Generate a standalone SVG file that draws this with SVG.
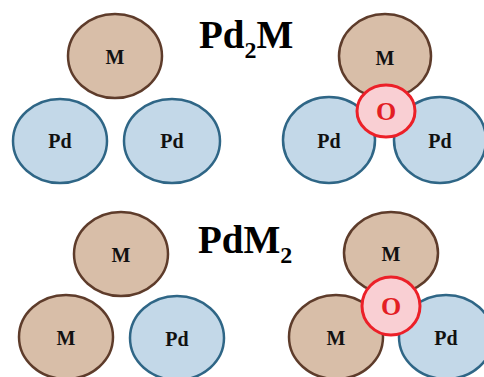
<svg xmlns="http://www.w3.org/2000/svg" width="484" height="377" viewBox="0 0 484 377">
<style>
.m{fill:#d8bea8;stroke:#5e3c2b;stroke-width:2.5}
.pd{fill:#c3d8e8;stroke:#2f6686;stroke-width:2.5}
.o{fill:#f9cfd3;stroke:#ec2028;stroke-width:3}
.lbl{font-family:"Liberation Serif",serif;font-weight:bold;font-size:20px;fill:#111;text-anchor:middle}
.ol{font-family:"Liberation Serif",serif;font-weight:bold;font-size:26px;fill:#e31e24;text-anchor:middle}
.title{font-family:"Liberation Serif",serif;font-weight:bold;font-size:39px;fill:#000}
</style>
<rect width="484" height="377" fill="#fff"/>
<g id="title1"><text class="title" x="199" y="48">Pd<tspan font-size="24" dy="10">2</tspan><tspan dy="-10">M</tspan></text></g>
<g id="title2"><text class="title" x="198" y="253">PdM<tspan font-size="24" dy="10">2</tspan></text></g>

<g id="tl-M"><ellipse class="m" cx="115" cy="56" rx="47" ry="42"/><text class="lbl" x="115" y="64">M</text></g>
<g id="tl-Pd1"><ellipse class="pd" cx="60" cy="141" rx="47" ry="42"/><text class="lbl" x="60" y="148">Pd</text></g>
<g id="tl-Pd2"><ellipse class="pd" cx="172" cy="141" rx="48" ry="42"/><text class="lbl" x="172" y="148">Pd</text></g>

<g id="tr-M"><ellipse class="m" cx="385" cy="56" rx="46" ry="42"/><text class="lbl" x="385" y="65">M</text></g>
<g id="tr-Pd1"><ellipse class="pd" cx="329" cy="140" rx="46" ry="43"/><text class="lbl" x="329" y="148">Pd</text></g>
<g id="tr-Pd2"><ellipse class="pd" cx="440" cy="140" rx="46" ry="43"/><text class="lbl" x="440" y="148">Pd</text></g>
<g id="tr-O"><ellipse class="o" cx="386" cy="111" rx="29" ry="26"/><text class="ol" x="386" y="120">O</text></g>

<g id="bl-M"><ellipse class="m" cx="121" cy="254" rx="47" ry="42"/><text class="lbl" x="121" y="262">M</text></g>
<g id="bl-M2"><ellipse class="m" cx="66" cy="337" rx="47" ry="42"/><text class="lbl" x="66" y="345">M</text></g>
<g id="bl-Pd"><ellipse class="pd" cx="177" cy="338" rx="47" ry="42"/><text class="lbl" x="177" y="346">Pd</text></g>

<g id="br-M"><ellipse class="m" cx="391" cy="253" rx="47" ry="41"/><text class="lbl" x="391" y="261">M</text></g>
<g id="br-M2"><ellipse class="m" cx="336" cy="337" rx="47" ry="42"/><text class="lbl" x="336" y="345">M</text></g>
<g id="br-Pd"><ellipse class="pd" cx="446" cy="337" rx="47" ry="42"/><text class="lbl" x="446" y="345">Pd</text></g>
<g id="br-O"><ellipse class="o" cx="391" cy="306" rx="29" ry="29"/><text class="ol" x="391" y="315">O</text></g>
<g id="connectors"></g>
</svg>
